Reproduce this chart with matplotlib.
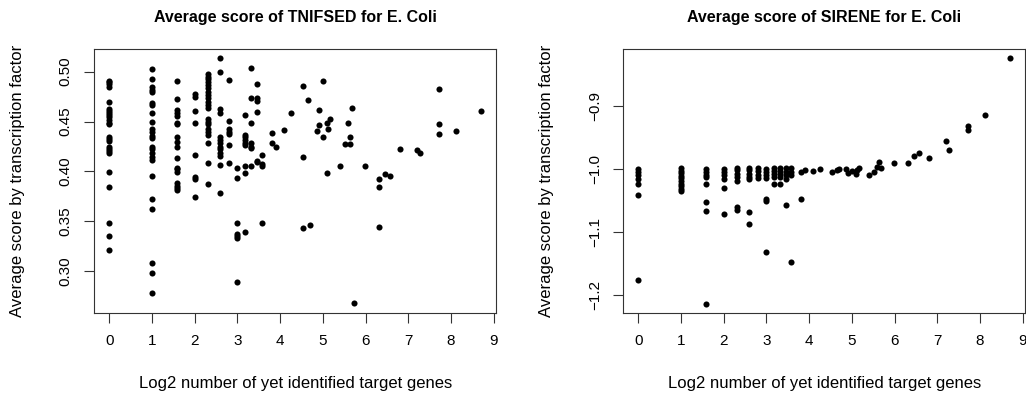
import numpy as np
import matplotlib
matplotlib.use("Agg")
import matplotlib.pyplot as plt

plt.rcParams['font.family'] = ['Liberation Sans', 'DejaVu Sans']

# log2 number of identified target genes, one entry per column of points
tnifsed_cols = [0, 1, 1.585, 2, 2.322, 2.585, 2.807, 3, 3.17, 3.322, 3.459, 3.585,
                3.807, 3.907, 4.087, 4.248, 4.524, 4.644, 4.70, 4.858, 4.907, 5.0,
                5.087, 5.129, 5.17, 5.392, 5.524, 5.585, 5.644, 5.672, 5.728, 5.977,
                6.304, 6.459, 6.57, 6.80, 7.20, 7.27, 7.71, 7.72, 8.12, 8.71]
tnifsed_scores = [
    [0.491, 0.4893, 0.4873, 0.485, 0.470, 0.4623, 0.4606, 0.4583, 0.4563, 0.4543, 0.4516,
     0.4489, 0.4473, 0.4349, 0.4329, 0.4309, 0.4249, 0.4229, 0.4209, 0.4182, 0.3998,
     0.3841, 0.3481, 0.3354, 0.3213],
    [0.503, 0.4927, 0.485, 0.4817, 0.48, 0.4683, 0.4666, 0.4586, 0.4499, 0.4423, 0.4399,
     0.4356, 0.4332, 0.4249, 0.4225, 0.4182, 0.4149, 0.4115, 0.3958, 0.3721, 0.3624,
     0.3087, 0.2986, 0.2779],
    [0.491, 0.4726, 0.4616, 0.459, 0.4556, 0.4483, 0.4473, 0.4349, 0.4299, 0.4249, 0.4132,
     0.4038, 0.4022, 0.3998, 0.3881, 0.3855, 0.3831, 0.3815],
    [0.4773, 0.475, 0.4606, 0.4483, 0.4169, 0.3948, 0.3925, 0.3748],
    [0.4974, 0.495, 0.4927, 0.49, 0.4867, 0.4833, 0.4793, 0.4767, 0.474, 0.47, 0.4666,
     0.464, 0.4523, 0.4499, 0.4473, 0.4423, 0.4399, 0.4366, 0.4282, 0.4088, 0.3871],
    [0.5134, 0.4997, 0.4626, 0.4583, 0.4342, 0.4316, 0.4282, 0.4249, 0.4222, 0.4189,
     0.4159, 0.4065, 0.3785],
    [0.4917, 0.4509, 0.4426, 0.4399, 0.4372, 0.4265, 0.4082],
    [0.4038, 0.3938, 0.3481, 0.3374, 0.3354, 0.333, 0.2889],
    [0.4566, 0.4366, 0.4342, 0.4316, 0.4289, 0.4265, 0.4055, 0.3988, 0.3394],
    [0.504, 0.4733, 0.4483, 0.4283, 0.4249, 0.4232, 0.4055],
    [0.4873, 0.4733, 0.4706, 0.46, 0.4105, 0.4092],
    [0.4165, 0.4072, 0.4055, 0.3481],
    [0.4383, 0.4289],
    [0.4243],
    [0.4419],
    [0.459],
    [0.486, 0.4142, 0.3434],
    [0.472],
    [0.3464],
    [0.4406],
    [0.4613, 0.4469],
    [0.4907, 0.4349],
    [0.4483, 0.3982],
    [0.4429],
    [0.4526],
    [0.4052],
    [0.4279],
    [0.449],
    [0.4349, 0.4279],
    [0.4636],
    [0.268],
    [0.4052],
    [0.3925, 0.3848, 0.3444],
    [0.3975],
    [0.3955],
    [0.4229],
    [0.4215],
    [0.4189],
    [0.4473],
    [0.4376, 0.4823],
    [0.4409],
    [0.461],
]

sirene_cols = [0, 1, 1.585, 2, 2.322, 2.585, 2.807, 3, 3.17, 3.322, 3.459, 3.585,
               3.807, 3.907, 4.087, 4.248, 4.524, 4.644, 4.70, 4.858, 4.907, 5.0,
               5.087, 5.129, 5.17, 5.392, 5.524, 5.585, 5.644, 5.672, 5.977,
               6.304, 6.459, 6.57, 6.80, 7.20, 7.27, 7.71, 7.72, 8.12, 8.71]
sirene_scores = [
    [-0.9994, -1.0048, -1.010, -1.0152, -1.0232, -1.0406, -1.1756],
    [-0.999, -1.003, -1.007, -1.011, -1.015, -1.019, -1.023, -1.027, -1.031, -1.035],
    [-0.9994, -1.0048, -1.010, -1.0127, -1.0243, -1.0524, -1.0671, -1.2137],
    [-0.9994, -1.0048, -1.010, -1.0152, -1.0296, -1.0714],
    [-0.998, -1.002, -1.0073, -1.0127, -1.019, -1.0603, -1.0644],
    [-0.998, -1.002, -1.0073, -1.0127, -1.0152, -1.0683, -1.0867],
    [-0.998, -1.003, -1.009, -1.015],
    [-0.9994, -1.005, -1.01, -1.015, -1.047, -1.0508, -1.1317],
    [-0.998, -1.003, -1.008, -1.013, -1.0243],
    [-0.998, -1.003, -1.008, -1.013, -1.0243],
    [-0.998, -1.004, -1.010, -1.0152, -1.0565],
    [-0.998, -1.004, -1.010, -1.1476],
    [-1.004, -1.047],
    [-1.002],
    [-1.003],
    [-0.9994],
    [-1.004],
    [-1.002],
    [-1.0],
    [-1.0],
    [-1.006],
    [-1.003],
    [-1.008],
    [-1.002],
    [-0.998],
    [-1.010],
    [-1.004],
    [-0.996],
    [-0.989],
    [-0.998],
    [-0.991],
    [-0.9897],
    [-0.9794],
    [-0.974],
    [-0.9818],
    [-0.9548],
    [-0.970],
    [-0.931],
    [-0.9385],
    [-0.9147],
    [-0.8233],
]

x_ticks = list(range(10))
tnifsed_yticks = [0.30, 0.35, 0.40, 0.45, 0.50]
sirene_yticks = [-1.2, -1.1, -1.0, -0.9]


def flatten(cols, scores):
    xs, ys = [], []
    for c, s in zip(cols, scores):
        xs += [c] * len(s)
        ys += s
    return np.array(xs), np.array(ys)


def draw(ax, x, y, title, ylim, yticks, ylabels):
    ax.plot(x, y, 'o', color='black', ms=4.4, mew=0)
    ax.set_xlim(-0.35, 9.05)
    ax.set_ylim(ylim)
    ax.set_xticks(x_ticks)
    ax.set_yticks(yticks)
    ax.set_yticklabels(ylabels)
    ax.tick_params(direction='out', length=7.5, width=0.8, pad=8, labelsize=11,
                   color='#333333')
    for lab in ax.get_yticklabels():
        lab.set_rotation(90)
        lab.set_va('center')
    for sp in ax.spines.values():
        sp.set_linewidth(0.8)
        sp.set_color('#333333')
    ax.text(0.5, 1.121, title, transform=ax.transAxes, ha='center', va='center',
            fontsize=11.5, fontweight='bold')
    ax.set_xlabel("Log2 number of yet identified target genes", fontsize=12)
    ax.xaxis.set_label_coords(0.5, -0.27)
    ax.xaxis.label.set_va('center')
    ax.set_ylabel("Average score by transcription factor", fontsize=12)
    ax.yaxis.set_label_coords(-0.19, 0.5)
    ax.yaxis.label.set_va('center')


fig = plt.figure(figsize=(10.26, 3.98), dpi=100)
ax1 = fig.add_axes([0.0919, 0.2143, 0.3915, 0.6626])
ax2 = fig.add_axes([0.6075, 0.2143, 0.3915, 0.6626])

tx, ty = flatten(tnifsed_cols, tnifsed_scores)
sx, sy = flatten(sirene_cols, sirene_scores)

draw(ax1, tx, ty, "Average score of TNIFSED for E. Coli", (0.2585, 0.5227),
     tnifsed_yticks, ["%.2f" % v for v in tnifsed_yticks])
draw(ax2, sx, sy, "Average score of SIRENE for E. Coli", (-1.228, -0.8095),
     sirene_yticks, [("%.1f" % v).replace('-', '\u2212') for v in sirene_yticks])

fig.savefig("out.png", dpi=100)
